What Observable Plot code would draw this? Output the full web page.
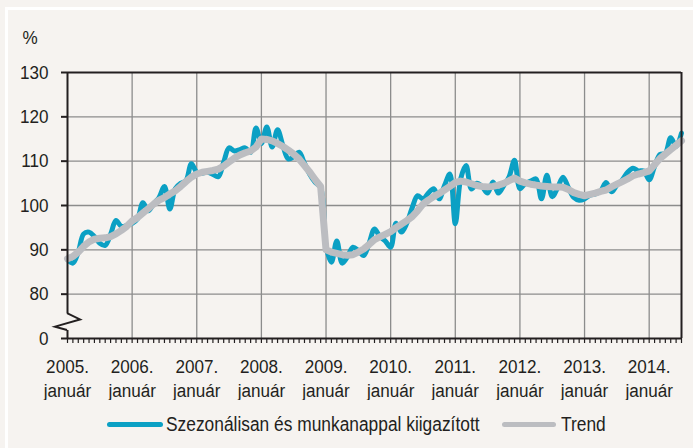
<!DOCTYPE html>
<html><head><meta charset="utf-8">
<script src="https://cdn.jsdelivr.net/npm/d3@7"></script>
<script src="https://cdn.jsdelivr.net/npm/@observablehq/plot@0.6"></script>
<style>
html,body{margin:0;padding:0;background:#f6f3f0;overflow:hidden;width:693px;height:448px;position:relative;}
#frame{position:absolute;left:5px;top:7px;width:800px;height:600px;border:3px solid #ffffff;z-index:0;}
#chart{position:absolute;left:0;top:0;z-index:1;}
#legend{position:absolute;left:0;top:400px;width:693px;height:48px;z-index:1;font-family:"Liberation Sans",Arial,sans-serif;font-size:19.5px;color:#231f20;}
#legend .sw{position:absolute;top:22px;height:5px;border-radius:3px;}
#legend .lab{position:absolute;top:12px;line-height:24px;white-space:nowrap;transform:scaleX(0.89);transform-origin:0 50%;}
</style></head><body>
<div id="frame"></div>
<div id="chart"></div>
<div id="legend">
  <span class="sw" id="sw1" style="left:107px;width:56px;"></span><span class="lab" id="lab1" style="left:166px;"></span>
  <span class="sw" id="sw2" style="left:502px;width:54px;"></span><span class="lab" id="lab2" style="left:561px;"></span>
</div>
<script>
// ---- data (Jan 2005 .. Jul 2014, monthly) ----
const yearLabels = ["2005.","2006.","2007.","2008.","2009.","2010.","2011.","2012.","2013.","2014."];
const monthLabel = "január";
const seriesNames = ["Szezonálisan és munkanappal kiigazított", "Trend"];
const yTickValues = [70, 80, 90, 100, 110, 120, 130];
const yTickLabels = ["0", "80", "90", "100", "110", "120", "130"];
const unitLabel = "%";

const seasonal = [
  87.8, 87.0, 89.5, 93.6, 94.0, 93.0, 91.5, 91.0, 93.5, 96.6, 95.3, 95.5,
  96.0, 97.0, 100.6, 98.8, 100.4, 101.8, 104.3, 99.2, 103.8, 105.0, 105.6, 109.4,
  107.5, 107.3, 107.5, 107.0, 106.5, 109.8, 113.0, 112.3, 112.6, 113.0, 112.0, 117.5,
  114.0, 117.7, 113.2, 117.1, 113.5, 110.5, 111.0, 112.0, 109.5, 107.0, 105.2, 104.0,
  90.8, 87.2, 92.0, 87.0, 88.5, 90.6, 89.8, 88.7, 91.5, 94.7, 93.0, 92.0,
  90.6, 96.0, 94.0, 96.0, 99.5, 102.2, 101.5, 102.8, 103.8, 101.5, 104.5, 107.1,
  95.9, 106.0, 109.0, 103.7, 105.0, 104.2, 102.8, 105.3, 102.8, 104.5, 106.5, 110.2,
  103.8, 105.0, 105.5, 106.0, 101.5, 106.8, 102.0, 104.0, 106.4, 104.0, 101.8, 101.2,
  101.5, 102.3, 102.6, 103.3, 105.2, 103.1, 104.6, 105.8, 107.5, 108.4, 107.8, 107.8,
  105.8, 108.8, 111.5, 111.8, 115.3, 113.3, 116.3
];
const trend = [
  88.0, 88.5, 89.5, 90.8, 91.8, 92.4, 92.6, 92.7, 93.0, 93.6, 94.4, 95.3,
  96.5, 97.3, 98.3, 99.3, 100.3, 101.2, 101.8, 102.6, 103.3, 104.3, 105.4, 106.4,
  107.1, 107.5, 107.7, 107.9, 108.2, 108.9, 109.8, 110.7, 111.4, 111.9, 112.3, 113.2,
  115.0, 114.9, 114.6, 114.0, 113.3, 112.5, 111.6, 110.5, 109.0, 107.5, 105.8, 104.3,
  90.0, 89.5, 89.2, 88.9, 88.8, 88.9, 89.5, 90.2, 91.2, 92.3, 92.9, 93.5,
  94.1, 95.0, 95.8, 96.6, 97.5, 98.8, 100.3, 101.2, 102.0, 102.7, 103.5, 104.3,
  105.2, 105.5, 105.3, 104.9, 104.5, 104.3, 104.2, 104.3, 104.6, 105.0, 105.6, 106.2,
  105.5, 105.1, 104.8, 104.6, 104.4, 104.3, 104.2, 104.2, 104.1, 103.6, 102.9, 102.5,
  102.2, 102.5, 102.8, 103.2, 103.5, 104.2, 104.8, 105.4, 106.0, 106.7, 107.1, 107.4,
  107.8, 109.2, 110.6, 111.6, 112.6, 113.6, 114.6
];

const BLUE = "#0ba0c4";
const GRAY = "#bcbdc1";
const INK = "#231f20";
const GRID = "#8c8c8c";
const FONT = '"Liberation Sans",Arial,sans-serif';

const rows = seasonal.map((v, i) => ({m: i, s: v, t: trend[i]}));
const monthTicks = rows.map(d => d.m);
const yearTicks = yearLabels.map((_, i) => i * 12);
const lastM = rows.length - 1;

const plot = Plot.plot({
  width: 693, height: 400,
  marginTop: 72, marginLeft: 67, marginRight: 12, marginBottom: 62,
  style: {background: "transparent", fontFamily: FONT, fontSize: "19px", color: INK},
  x: {domain: [0, lastM], label: null},
  y: {domain: [70, 130], label: null},
  marks: [
    Plot.gridX(yearTicks.slice(1), {stroke: GRID, strokeOpacity: 1, strokeWidth: 1.3}),
    Plot.gridY([80, 90, 100, 110, 120], {stroke: GRID, strokeOpacity: 1, strokeWidth: 1.3}),
    Plot.line(rows, {x: "m", y: "s", stroke: BLUE, strokeWidth: 5, curve: "catmull-rom"}),
    Plot.line(rows, {x: "m", y: "t", stroke: GRAY, strokeWidth: 7, curve: "linear"}),
    Plot.ruleY([130], {stroke: INK, strokeWidth: 2}),
    Plot.ruleY([70], {stroke: INK, strokeWidth: 2}),
    Plot.ruleX([lastM], {stroke: INK, strokeWidth: 2}),
    Plot.ruleX([0], {y1: 75.6, y2: 130, stroke: INK, strokeWidth: 2}),
    Plot.ruleX([0], {y1: 70, y2: 71.8, stroke: INK, strokeWidth: 2}),
    Plot.axisY(yTickValues, {tickSize: 6, tickPadding: 13, strokeWidth: 2,
      tickFormat: d => yTickLabels[yTickValues.indexOf(d)], fontSize: 19}),
    Plot.axisX(monthTicks, {tickSize: 5, tickFormat: () => "", strokeWidth: 1.2}),
    Plot.axisX(yearTicks, {tickSize: 0, tickPadding: 18, lineHeight: 1.24, fontSize: 19,
      tickFormat: d => yearLabels[d / 12] + "\n" + monthLabel}),
    Plot.text([unitLabel], {frameAnchor: "top-left", dx: -45, dy: -42, fontSize: 19, fill: INK})
  ]
});

// narrow the glyphs (Arial Narrow look) around each text's own anchor
d3.select(plot).selectAll("text").each(function() {
  const t = this.getAttribute("transform") || "";
  this.setAttribute("transform", (t + " scale(0.9,1)").trim());
});

// axis break zig-zag on the y axis (between 0 and 80)
{
  const xs = plot.scale("x"), ys = plot.scale("y");
  const x0 = xs.apply(0), yA = ys.apply(75.6), yB = ys.apply(71.8);
  const h = yB - yA;
  const pts = [[x0, yA], [x0 + 13, yA + h * 0.37], [x0 - 12, yA + h * 0.8], [x0, yB]];
  d3.select(plot).append("path")
    .attr("d", d3.line()(pts))
    .attr("fill", "none").attr("stroke", INK).attr("stroke-width", 2).attr("stroke-linejoin", "miter");
}

document.getElementById("chart").appendChild(plot);
document.getElementById("sw1").style.background = BLUE;
document.getElementById("sw2").style.background = GRAY;
document.getElementById("lab1").textContent = seriesNames[0];
document.getElementById("lab2").textContent = seriesNames[1];
</script>
</body></html>
